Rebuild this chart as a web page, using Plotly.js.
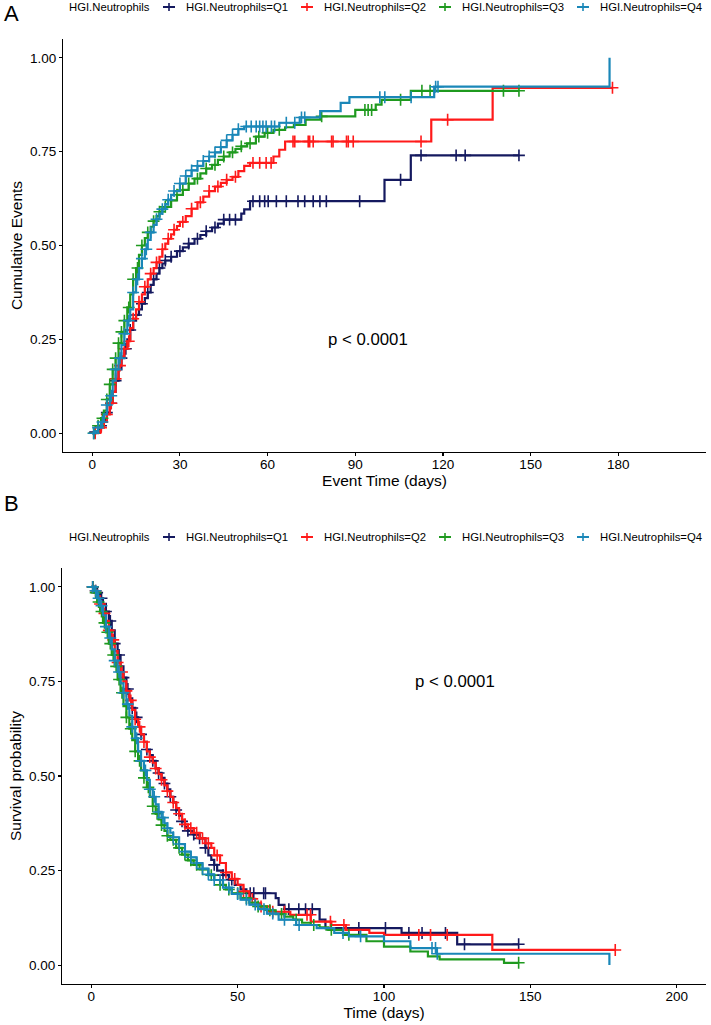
<!DOCTYPE html>
<html>
<head>
<meta charset="utf-8">
<script src="https://cdn.plot.ly/plotly-3.0.1.min.js"></script>
<style>html,body{margin:0;padding:0;background:#fff;}#chart{width:711px;height:1025px;}</style>
</head>
<body>
<div id="chart"></div>
<script>
// ---------------- data ----------------
const groups = ["HGI.Neutrophils=Q1", "HGI.Neutrophils=Q2", "HGI.Neutrophils=Q3", "HGI.Neutrophils=Q4"];
const legendTitle = "HGI.Neutrophils";
const colors = ["#14195F", "#FF1A1A", "#1F9A1F", "#1A87B8"];

// Panel A : cumulative events (step curves)
const A_Q1_t = [0,1,2,3,4,5,6,7,8,9,10,11,12,13,14,15,16,17,18,19,20,21,22,23,24,25,27,29,31,33,35,37,39,41,43,45,51,52,54,100,109];
const A_Q1_v = [0,0.003,0.01,0.02,0.035,0.055,0.08,0.11,0.14,0.17,0.2,0.225,0.25,0.275,0.3,0.315,0.33,0.345,0.36,0.375,0.395,0.41,0.425,0.44,0.452,0.46,0.47,0.485,0.495,0.505,0.518,0.528,0.538,0.548,0.558,0.569,0.585,0.596,0.618,0.675,0.74];
const A_Q2_t = [0,2,3,4,5,6,7,8,9,10,11,12,13,14,15,16,17,18,19,20,21,22,23,24,25,26,27,28,29,30,32,34,36,38,40,42,44,46,48,50,52,54,62,64,66,116,137];
const A_Q2_v = [0,0.005,0.015,0.03,0.05,0.08,0.11,0.145,0.18,0.205,0.225,0.245,0.28,0.305,0.33,0.35,0.37,0.39,0.41,0.425,0.44,0.455,0.47,0.49,0.505,0.518,0.53,0.542,0.552,0.563,0.578,0.598,0.615,0.63,0.645,0.657,0.667,0.675,0.683,0.698,0.712,0.72,0.737,0.755,0.777,0.835,0.92];
const A_Q3_t = [0,1,2,3,4,5,6,7,8,9,10,11,12,13,14,15,16,17,18,19,20,21,22,23,24,25,27,29,31,33,35,37,39,41,43,45,47,49,51,53,56,59,62,66,69,73,78,90,97,99,109];
const A_Q3_v = [0,0.005,0.02,0.04,0.06,0.09,0.13,0.17,0.2,0.24,0.27,0.3,0.335,0.37,0.41,0.44,0.475,0.5,0.52,0.535,0.55,0.565,0.578,0.59,0.598,0.603,0.62,0.635,0.648,0.665,0.678,0.692,0.705,0.715,0.728,0.737,0.748,0.757,0.764,0.772,0.79,0.8,0.808,0.815,0.821,0.835,0.844,0.861,0.875,0.888,0.912];
const A_Q4_t = [0,1,2,3,4,5,6,7,8,9,10,11,12,13,14,15,16,17,18,19,20,21,22,23,24,25,26,27,28,30,32,34,36,38,40,42,44,46,48,50,52,64,71,78,85,88,117,177];
const A_Q4_v = [0,0.005,0.015,0.03,0.05,0.075,0.1,0.14,0.17,0.2,0.235,0.265,0.3,0.33,0.375,0.41,0.44,0.465,0.49,0.515,0.535,0.555,0.57,0.585,0.597,0.61,0.622,0.635,0.645,0.665,0.685,0.7,0.712,0.725,0.737,0.748,0.762,0.78,0.795,0.81,0.817,0.827,0.841,0.858,0.88,0.895,0.923,1.0];
// censoring times, panel A
const A_Q1_c = [1,3,5,6.5,8,10,11.5,13,15,17,19,21,23,25,27,30,33,36,39,42,45,47,49,55,57.3,59,60.2,63,66.4,70.4,72.7,75.6,77.9,80.1,91.5,105.5,112.5,124.5,127.6,146];
const A_Q2_c = [1,3,5,6.5,8,9.5,11,12.5,14,16,18,20,22,24,26,28,31,34,37,40,43,46,49,55,57.3,59.5,61.2,68.7,69.3,73.9,74.4,75.6,81.9,82.4,87,87.6,89.3,112.5,121.6,178];
const A_Q3_c = [0.5,2,3.5,5,6,7,8,9,10,11,12.5,14,15.5,17,19,21,23,25,27,29,31,33,36,39,42,45,48,51,54,57,60,64,78.5,93.3,94.4,95.6,105.5,112.8,115.6,140.7,146];
const A_Q4_c = [0.5,2,3.5,5,6.5,8,9.5,11,12.5,14,15.5,17,18.5,20,22,24,26,28,30,32,34,36,38,40,42,44,46,48,50,52.7,54.4,56.1,57.3,58.4,59.5,61.3,62.4,66.4,69.3,71.6,72.7,98.4,100.1,109.1,117.5,118.3];

// Panel B : survival probability (step curves)
const B_Q1_t = [0,1,2,3,4,5,6,7,8,9,10,11,12,13,14,15,16,17,18,19,20,21,22,23,24,25,26,27,28,29,30,31,32,33,35,37,39,40,41,42,43,45,47,49,51,53,63,64,66,78,80,106,125];
const B_Q1_v = [1,0.995,0.985,0.97,0.955,0.935,0.91,0.885,0.85,0.82,0.79,0.76,0.73,0.705,0.68,0.655,0.63,0.61,0.59,0.57,0.555,0.54,0.52,0.508,0.495,0.48,0.465,0.445,0.43,0.41,0.395,0.38,0.365,0.355,0.345,0.335,0.31,0.29,0.278,0.265,0.25,0.238,0.226,0.212,0.2,0.19,0.177,0.159,0.148,0.12,0.098,0.085,0.055];
const B_Q2_t = [0,1,2,3,4,5,6,7,8,9,10,11,12,13,14,15,16,17,18,19,20,21,22,23,24,25,26,27,28,29,30,31,32,33,35,37,39,41,42,44,46,48,50,52,54,56,58,61,68,75,82,87,95,100,137];
const B_Q2_v = [1,0.99,0.975,0.955,0.93,0.91,0.885,0.86,0.83,0.8,0.775,0.75,0.725,0.7,0.675,0.65,0.63,0.61,0.59,0.565,0.55,0.535,0.52,0.505,0.49,0.475,0.46,0.445,0.43,0.415,0.4,0.385,0.372,0.362,0.35,0.335,0.322,0.31,0.29,0.27,0.245,0.228,0.212,0.195,0.175,0.163,0.155,0.141,0.133,0.115,0.106,0.093,0.085,0.08,0.04];
const B_Q3_t = [0,1,2,3,4,5,6,7,8,9,10,11,12,13,14,15,16,17,18,19,20,21,22,23,24,25,26,27,29,31,33,35,37,40,42,44,46,48,51,54,57,60,63,66,69,72,75,78,81,86,94,100,109,115,119,141];
const B_Q3_v = [1,0.985,0.96,0.935,0.905,0.88,0.85,0.82,0.79,0.755,0.72,0.685,0.655,0.625,0.595,0.565,0.54,0.515,0.495,0.47,0.445,0.42,0.4,0.385,0.37,0.355,0.342,0.331,0.31,0.292,0.277,0.265,0.253,0.238,0.225,0.212,0.2,0.19,0.177,0.165,0.155,0.145,0.135,0.128,0.12,0.112,0.106,0.1,0.093,0.08,0.063,0.049,0.036,0.023,0.015,0.006];
const B_Q4_t = [0,1,2,3,4,5,6,7,8,9,10,11,12,13,14,15,16,17,18,19,20,21,22,23,24,25,26,27,28,30,32,34,36,38,40,42,45,48,51,54,57,60,64,70,77,83,88,100,109,118,177];
const B_Q4_v = [1,0.99,0.97,0.95,0.925,0.895,0.865,0.835,0.805,0.775,0.745,0.72,0.69,0.66,0.63,0.6,0.565,0.54,0.515,0.49,0.465,0.445,0.425,0.405,0.39,0.375,0.362,0.35,0.338,0.32,0.3,0.285,0.27,0.255,0.24,0.225,0.205,0.188,0.173,0.16,0.148,0.136,0.12,0.106,0.098,0.085,0.076,0.063,0.045,0.03,0];
// censoring times, panel B
const B_Q1_c = [0.5,2,3.5,5,6.5,8,9.5,11,12.5,14,15.5,17,19,21,23,25,27,29,31,33,35,37,39,42,45,48,54.3,55.5,58.9,59.5,67.5,70.9,73.2,75.5,91.4,100.5,108.5,113,121,127.5,146];
const B_Q2_c = [0.5,1.5,3,4.5,6,7.5,9,10.5,12,13.5,15,16.5,18,20,22,24,26,28,30,32,34,36,38,40,43,46,49,52,55,58,62,66,73.7,74.9,81.7,86.3,111.9,115.9,121.6,179];
const B_Q3_c = [0.5,1.5,2.5,3.5,4.5,5.5,6.5,7.5,8.5,9.5,10.5,12,13.5,15,16.5,18,19.5,21,22.5,24,26,28,30,32,34,36,38,41,44,47,50,53,57,61,65,70,76,82,88,146];
const B_Q4_c = [0.5,1.5,2.5,3.5,5,6.5,8,9.5,11,12.5,14,15.5,17,18.5,20,21.5,23,24.5,26,28,30,32,34,36,38,40,42,44,47,50,53,56,59,62,66,71,86,92,116.4,117.6,118.2];

// axes / text
const xTicksA = [0,30,60,90,120,150,180];
const xTicksB = [0,50,100,150,200];
const yTicks = [0,0.25,0.5,0.75,1];
const yTickLabels = ["0.00","0.25","0.50","0.75","1.00"];
const pLabel = "p < 0.0001";
const pA = [80, 0.25];
const pB = [110, 0.75];

// ---------------- build ----------------
const FONT = '"Liberation Sans", Arial, Helvetica, sans-serif';
const W = 711, H = 1025;

function stepAt(t, v, x) {
  let r = v[0];
  for (let i = 0; i < t.length; i++) if (t[i] <= x) r = v[i];
  return r;
}

const panels = [
  {xa: 'x', ya: 'y', series: [[A_Q1_t,A_Q1_v,A_Q1_c],[A_Q2_t,A_Q2_v,A_Q2_c],[A_Q3_t,A_Q3_v,A_Q3_c],[A_Q4_t,A_Q4_v,A_Q4_c]]},
  {xa: 'x2', ya: 'y2', series: [[B_Q1_t,B_Q1_v,B_Q1_c],[B_Q2_t,B_Q2_v,B_Q2_c],[B_Q3_t,B_Q3_v,B_Q3_c],[B_Q4_t,B_Q4_v,B_Q4_c]]}
];

const traces = [];
panels.forEach(p => {
  p.series.forEach((s, gi) => {
    const [t, v, c] = s;
    const lastC = Math.max.apply(null, c);
    const xs = t.slice(), ys = v.slice();
    if (lastC > t[t.length - 1]) { xs.push(lastC); ys.push(v[v.length - 1]); }
    traces.push({
      type: 'scatter', mode: 'lines', x: xs, y: ys, xaxis: p.xa, yaxis: p.ya,
      line: {shape: 'hv', color: colors[gi], width: 2.2}, name: groups[gi], showlegend: false, hoverinfo: 'skip'
    });
    traces.push({
      type: 'scatter', mode: 'markers', x: c, y: c.map(x => stepAt(t, v, x)), xaxis: p.xa, yaxis: p.ya,
      marker: {symbol: 'cross-thin', size: 8.5, color: colors[gi], line: {color: colors[gi], width: 1.6}},
      showlegend: false, hoverinfo: 'skip'
    });
  });
});

function axisX(ticks, title, dom, anchor) {
  return {
    domain: dom, anchor: anchor, range: [-10, 210], tickmode: 'array', tickvals: ticks, ticktext: ticks.map(String),
    ticks: 'outside', ticklen: 3, tickwidth: 1.1, tickcolor: '#000', showline: true, linecolor: '#000', linewidth: 1.1,
    showgrid: false, zeroline: false, tickfont: {family: FONT, size: 13.5, color: '#000'}, ticklabelstandoff: -3,
    title: {text: title, font: {family: FONT, size: 15.5, color: '#000'}, standoff: 1}, fixedrange: true
  };
}
function axisY(title, dom, anchor) {
  return {
    domain: dom, anchor: anchor, range: [-0.05, 1.05], tickmode: 'array', tickvals: yTicks, ticktext: yTickLabels,
    ticks: 'outside', ticklen: 3, tickwidth: 1.1, tickcolor: '#000', showline: true, linecolor: '#000', linewidth: 1.1,
    showgrid: false, zeroline: false, tickfont: {family: FONT, size: 13.5, color: '#000'},
    title: {text: title, font: {family: FONT, size: 15.5, color: '#000'}, standoff: 3}, fixedrange: true
  };
}

const annotations = [];
const shapes = [];
// panel tags
annotations.push({text: 'A', xref: 'paper', yref: 'paper', x: 2/W, y: 1 - 13/H, xanchor: 'left', yanchor: 'middle', showarrow: false, font: {family: FONT, size: 22, color: '#000'}});
annotations.push({text: 'B', xref: 'paper', yref: 'paper', x: 2/W, y: 1 - 503/H, xanchor: 'left', yanchor: 'middle', showarrow: false, font: {family: FONT, size: 22, color: '#000'}});
// p-values
annotations.push({text: pLabel, xref: 'x', yref: 'y', x: pA[0], y: pA[1], xanchor: 'left', yanchor: 'middle', showarrow: false, font: {family: FONT, size: 16.8, color: '#000'}});
annotations.push({text: pLabel, xref: 'x2', yref: 'y2', x: pB[0], y: pB[1], xanchor: 'left', yanchor: 'middle', showarrow: false, font: {family: FONT, size: 16.8, color: '#000'}});

// manual legends (ggplot style) for both panels
const legTitleX = 67, symX = [169, 307, 445, 583], txtX = [184, 322, 460, 598];
[7, 537].forEach(ly => {
  annotations.push({text: legendTitle, xref: 'paper', yref: 'paper', x: legTitleX/W, y: 1 - ly/H, xanchor: 'left', yanchor: 'middle', showarrow: false, font: {family: FONT, size: 11.3, color: '#000'}});
  groups.forEach((g, i) => {
    annotations.push({text: g, xref: 'paper', yref: 'paper', x: txtX[i]/W, y: 1 - ly/H, xanchor: 'left', yanchor: 'middle', showarrow: false, font: {family: FONT, size: 11.3, color: '#000'}});
    shapes.push({type: 'line', xref: 'paper', yref: 'paper', x0: (symX[i]-6)/W, x1: (symX[i]+6)/W, y0: 1 - ly/H, y1: 1 - ly/H, line: {color: colors[i], width: 2}});
    shapes.push({type: 'line', xref: 'paper', yref: 'paper', x0: symX[i]/W, x1: symX[i]/W, y0: 1 - (ly-4)/H, y1: 1 - (ly+4)/H, line: {color: colors[i], width: 1.6}});
  });
});

const layout = {
  width: W, height: H, margin: {l: 0, r: 0, t: 0, b: 0},
  paper_bgcolor: '#fff', plot_bgcolor: '#fff', showlegend: false,
  font: {family: FONT, color: '#000'},
  xaxis: axisX(xTicksA, 'Event Time (days)', [63/W, 706/W], 'y'),
  yaxis: axisY('Cumulative Events', [1 - 452/H, 1 - 39/H], 'x'),
  xaxis2: axisX(xTicksB, 'Time (days)', [62/W, 706/W], 'y2'),
  yaxis2: axisY('Survival probability', [1 - 984/H, 1 - 568/H], 'x2'),
  annotations: annotations, shapes: shapes
};

Plotly.newPlot('chart', traces, layout, {displayModeBar: false, staticPlot: true});
</script>
</body>
</html>
